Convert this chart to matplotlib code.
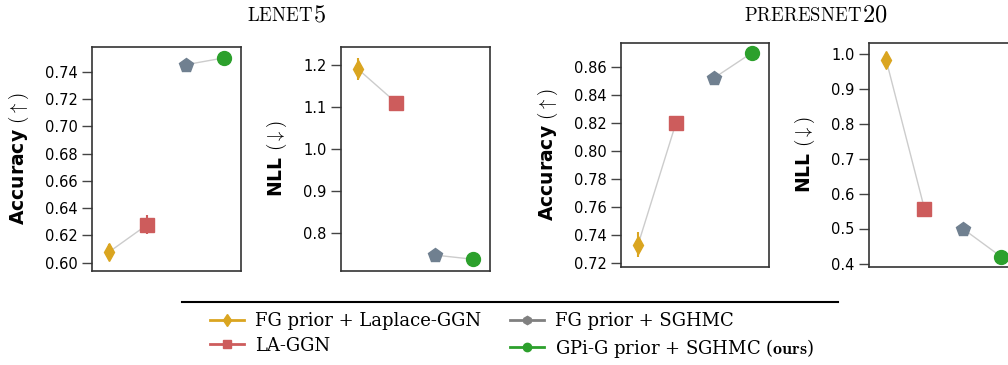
import numpy as np
import matplotlib
matplotlib.use('Agg')
import matplotlib.pyplot as plt
from matplotlib.lines import Line2D

plt.rcParams['font.family'] = ['DejaVu Sans']
plt.rcParams['mathtext.fontset'] = 'cm'

# データ
methods = ['FG prior + Laplace-GGN', 'LA-GGN', 'FG prior + SGHMC',
           'GPi-G prior + SGHMC ($\\mathbf{ours}$)']
colors = ['#DAA520', '#CD5C5C', '#708090', '#2CA02C']
markers = ['d', 's', 'p', 'o']

lenet_acc = [0.608, 0.628, 0.745, 0.750]
lenet_acc_err = [0.006, 0.007, 0.0, 0.0]
lenet_nll = [1.19, 1.11, 0.748, 0.738]
lenet_nll_err = [0.026, 0.01, 0.0, 0.0]
preres_acc = [0.733, 0.820, 0.852, 0.870]
preres_acc_err = [0.009, 0.0, 0.0, 0.0]
preres_nll = [0.981, 0.557, 0.500, 0.420]
preres_nll_err = [0.0, 0.0, 0.0, 0.0]

W, H = 1008, 365
fig = plt.figure(figsize=(W / 100, H / 100), dpi=100)


def make_ax(x0, y_top, y_bot, w=149):
    return fig.add_axes([x0 / W, 1 - y_bot / H, w / W, (y_bot - y_top) / H])


panels = [
    (make_ax(92, 47, 271), lenet_acc, lenet_acc_err, 'Accuracy $(\\uparrow)$',
     (0.594, 0.758), np.arange(0.60, 0.741, 0.02), '{:.2f}'),
    (make_ax(341, 47, 271), lenet_nll, lenet_nll_err, 'NLL $(\\downarrow)$',
     (0.71, 1.243), np.arange(0.8, 1.21, 0.1), '{:.1f}'),
    (make_ax(621, 43, 267, 148), preres_acc, preres_acc_err, 'Accuracy $(\\uparrow)$',
     (0.717, 0.877), np.arange(0.72, 0.861, 0.02), '{:.2f}'),
    (make_ax(869, 43, 267), preres_nll, preres_nll_err, 'NLL $(\\downarrow)$',
     (0.39, 1.03), np.arange(0.4, 1.01, 0.1), '{:.1f}'),
]

x = np.arange(4)
for ax, vals, errs, ylabel, ylim, ticks, fmt in panels:
    # 接続線 (1-2, 3-4)
    ax.plot(x[:2], vals[:2], '-', color='#cccccc', lw=1, zorder=1)
    ax.plot(x[2:], vals[2:], '-', color='#cccccc', lw=1, zorder=1)
    for i in range(4):
        ms = 9 if markers[i] == 'd' else 10
        ax.errorbar(x[i], vals[i], yerr=errs[i] if errs[i] > 0 else None,
                    fmt=markers[i], color=colors[i], ms=ms, elinewidth=1.5,
                    capsize=0, zorder=3)
    ax.set_xlim(-0.45, 3.45)
    ax.set_ylim(*ylim)
    ax.set_xticks([])
    ax.set_yticks(ticks)
    ax.set_yticklabels([fmt.format(t) for t in ticks])
    ax.tick_params(axis='y', length=7, width=1, labelsize=10.5, color='#444444')
    ax.set_ylabel(ylabel, fontsize=13.5, fontweight='bold', labelpad=10)
    for s in ax.spines.values():
        s.set_linewidth(1.2)
        s.set_color('#333333')

# タイトル (small caps 風)
fig.text(313 / W, 1 - 21 / H, '$\\mathrm{LENET}$', fontsize=13.5, ha='right', va='baseline')
fig.text(313 / W, 1 - 21 / H, '$\\mathrm{5}$', fontsize=17.5, ha='left', va='baseline')
fig.text(862 / W, 1 - 21 / H, '$\\mathrm{PRERESNET}$', fontsize=13.5, ha='right', va='baseline')
fig.text(862 / W, 1 - 21 / H, '$\\mathrm{20}$', fontsize=17.5, ha='left', va='baseline')

# 凡例
fig.add_artist(Line2D([182 / W, 838 / W], [1 - 302 / H, 1 - 302 / H],
                      color='black', lw=1.5, transform=fig.transFigure))
legend_colors = ['#DAA520', '#CD5C5C', '#808080', '#2CA02C']
legend_markers = ['d', 's', 'h', 'o']
handles = [Line2D([0], [0], color=c, marker=m, ms=6, lw=2)
           for c, m in zip(legend_colors, legend_markers)]
fig.legend(handles, methods, loc='center', bbox_to_anchor=(512 / W, 1 - 336 / H),
           ncol=2, frameon=False, prop={'family': 'DejaVu Serif', 'size': 13},
           handlelength=1.9, columnspacing=1.6, labelspacing=0.35, handletextpad=0.6)

plt.savefig('out.png', dpi=100)
